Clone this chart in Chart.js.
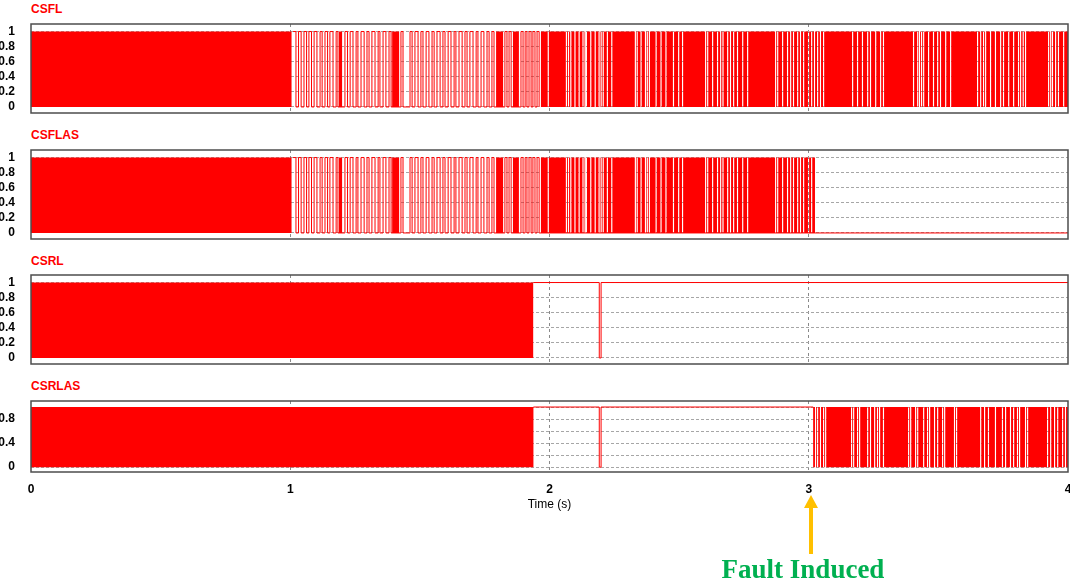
<!DOCTYPE html>
<html>
<head>
<meta charset="utf-8">
<script src="https://cdn.jsdelivr.net/npm/chart.js@4"></script>
<style>
    body { margin: 0; width: 1070px; height: 584px; overflow: hidden; background: #fff; position: relative; }
    .panel { position: absolute; left: 0; }
    .ttl { position: absolute; left: 31px; font: bold 12px/12px "Liberation Sans", Arial, sans-serif; color: #ff0000; }
    #fault { position: absolute; left: 703px; top: 556px; width: 200px; text-align: center; white-space: nowrap;
             font: bold 27px/27px "Liberation Serif", "Times New Roman", serif; color: #00b050; }
    #arrow { position: absolute; left: 800px; top: 492px; }
</style>
</head>
<body>
<div class="ttl" style="top:3px">CSFL</div>
<div class="ttl" style="top:129px">CSFLAS</div>
<div class="ttl" style="top:255px">CSRL</div>
<div class="ttl" style="top:380px">CSRLAS</div>

<div class="panel" style="top:22px"><canvas id="csflChart" width="1072" height="93"></canvas></div>
<div class="panel" style="top:148px"><canvas id="csflasChart" width="1072" height="93"></canvas></div>
<div class="panel" style="top:273px"><canvas id="csrlChart" width="1072" height="93"></canvas></div>
<div class="panel" style="top:399px"><canvas id="csrlasChart" width="1072" height="121"></canvas></div>

<svg id="arrow" width="22" height="64">
    <polygon points="4,16 18,16 11,3" fill="#ffc000"/>
    <rect x="9" y="15" width="4" height="47" fill="#ffc000"/>
</svg>
<div id="fault">Fault Induced</div>

<script>
// 축 눈금
var timeTicks = [0, 1, 2, 3, 4];
var levelTicks = [0, 0.2, 0.4, 0.6, 0.8, 1];
var levelLabels = [0, 0.2, 0.4, 0.6, 0.8, 1];
var csrlasLabels = [0, 0.4, 0.8];

// CSFL: 빽빽한 스위칭 구간 (채워진 블록), 블록 안의 짧은 off 구간, 드문 펄스 [on, off]
var csflBlocks = [[0, 1.005], [1.188, 1.200], [1.393, 1.420], [1.794, 1.821], [1.859, 1.882], [1.967, 4]];
var csflGaps = [
    1.993, 2.063, 2.071, 2.080, 2.096, 2.112, 2.127, 2.135, 2.140, 2.157, 2.174, 2.189, 2.197, 2.205,
    2.221, 2.238, 2.329, 2.336, 2.351, 2.368, 2.375, 2.383, 2.409, 2.428, 2.447, 2.476, 2.496, 2.511,
    2.600, 2.608, 2.627, 2.646, 2.658, 2.667, 2.685, 2.696, 2.708, 2.723, 2.743, 2.762, 2.870, 2.878,
    2.897, 2.916, 2.928, 2.939, 2.955, 2.966, 2.978, 2.997, 3.009, 3.020, 3.032, 3.043, 3.055,
    3.167, 3.186, 3.205, 3.225, 3.236, 3.256, 3.275, 3.286, 3.402, 3.418, 3.425, 3.433, 3.441, 3.460,
    3.479, 3.495, 3.506, 3.526, 3.545, 3.649, 3.661, 3.672, 3.680, 3.699, 3.718, 3.738, 3.749, 3.769,
    3.788, 3.807, 3.815, 3.825, 3.834, 3.923, 3.931, 3.938, 3.950, 3.961, 3.981
];
var csflPulses = [
    [1.011, 1.022], [1.032, 1.042], [1.053, 1.063], [1.072, 1.082], [1.092, 1.103], [1.115, 1.123],
    [1.134, 1.144], [1.153, 1.165], [1.177, 1.184], [1.211, 1.221], [1.231, 1.242], [1.254, 1.261],
    [1.273, 1.285], [1.296, 1.304], [1.315, 1.327], [1.339, 1.346], [1.358, 1.369], [1.381, 1.389],
    [1.427, 1.435], [1.462, 1.470], [1.481, 1.493], [1.504, 1.512], [1.524, 1.535], [1.547, 1.555],
    [1.566, 1.578], [1.589, 1.597], [1.609, 1.620], [1.632, 1.639], [1.651, 1.663], [1.674, 1.682],
    [1.693, 1.705], [1.717, 1.724], [1.736, 1.747], [1.759, 1.767], [1.778, 1.786], [1.828, 1.836],
    [1.844, 1.852], [1.890, 1.898], [1.906, 1.913], [1.921, 1.929], [1.936, 1.944], [1.952, 1.960]
];
// CSFLAS는 CSFL과 같다가 3.024 s에서 스위칭이 멈춤 (0 유지)
var csflasStop = 3.024;

// CSRL: 1.938 s까지 스위칭, 이후 1 유지 (2.19 s에 짧게 0)
var csrlBlocks = [[0, 1.938]];
var csrlHold = [[1.938, 1], [2.192, 0], [2.199, 1], [4, 1]];

// CSRLAS: CSRL과 같다가 3.017 s부터 다시 스위칭
var csrlasBlocks = [[0, 1.938], [3.017, 4]];
var csrlasGaps = [
    3.024, 3.032, 3.043, 3.055, 3.063, 3.163, 3.171, 3.186, 3.194, 3.225, 3.236, 3.252, 3.263, 3.271,
    3.286, 3.383, 3.391, 3.410, 3.418, 3.441, 3.456, 3.464, 3.483, 3.495, 3.514, 3.522, 3.560, 3.568,
    3.661, 3.676, 3.691, 3.718, 3.745, 3.757, 3.776, 3.788, 3.803, 3.811, 3.834, 3.842, 3.919, 3.931,
    3.946, 3.958, 3.977, 3.988
];
var csrlasHold = [[1.938, 1], [2.192, 0], [2.199, 1], [3.017, 1]];

var GAP_W = 0.0045; // off 구간 폭 (s)
var RED = '#ff0000';
var FONT = '"Liberation Sans", Arial, sans-serif';

// 채워진 블록 -> stepped 포인트
function blockPoints(blocks, gaps) {
    var pts = [];
    blocks.forEach(function (b) {
        pts.push({ x: b[0], y: 1 });
        gaps.filter(function (g) { return g > b[0] && g + GAP_W < b[1]; }).forEach(function (g) {
            pts.push({ x: g, y: 0 });
            pts.push({ x: g + GAP_W, y: 1 });
        });
        pts.push({ x: b[1], y: 0 });
    });
    return pts;
}

function pulsePoints(pulses) {
    var pts = [];
    pulses.forEach(function (p) {
        pts.push({ x: p[0], y: 1 });
        pts.push({ x: p[1], y: 0 });
    });
    return pts;
}

function holdPoints(hold) {
    return hold.map(function (h) { return { x: h[0], y: h[1] }; });
}

function makeDatasets(fillPts, linePts) {
    return [
        {
            data: linePts, stepped: true, fill: false, borderColor: RED, borderWidth: 1,
            pointRadius: 0,
        },
        {
            data: fillPts, stepped: true, fill: 'origin', backgroundColor: RED,
            borderColor: 'rgba(0,0,0,0)', borderWidth: 0, pointRadius: 0,
        },
    ];
}

// 패널 테두리
var framePlugin = {
    id: 'frame',
    afterDatasetsDraw: function (chart) {
        var a = chart.chartArea;
        var ctx = chart.ctx;
        ctx.save();
        ctx.strokeStyle = '#4d4d4d';
        ctx.lineWidth = 1.5;
        ctx.strokeRect(a.left, a.top, a.right - a.left, a.bottom - a.top);
        ctx.restore();
    },
};

function createChart(id, datasets, labels, isBottom) {
    return new Chart(document.getElementById(id).getContext('2d'), {
        type: 'line',
        data: { datasets: datasets },
        options: {
            responsive: false,
            animation: false,
            devicePixelRatio: 1,
            layout: { padding: { left: 0, right: 4, top: 2, bottom: isBottom ? 0 : 2 } },
            plugins: { legend: { display: false }, tooltip: { enabled: false } },
            scales: {
                x: {
                    type: 'linear',
                    min: 0,
                    max: 4,
                    afterBuildTicks: function (axis) {
                        axis.ticks = timeTicks.map(function (v) { return { value: v }; });
                    },
                    afterFit: function (axis) {
                        axis.height = isBottom ? 48 : 0;
                        axis.paddingLeft = 0;
                        axis.paddingRight = 0;
                    },
                    grid: {
                        drawTicks: false,
                        color: function (c) {
                            return c.tick && c.tick.value > 0 && c.tick.value < 4 ? '#8a8a8a' : 'rgba(0,0,0,0)';
                        },
                    },
                    border: { display: false, dash: [3, 3] },
                    ticks: {
                        display: isBottom,
                        autoSkip: false,
                        maxRotation: 0,
                        padding: 10,
                        color: '#000',
                        font: { family: FONT, size: 12, weight: 'bold' },
                    },
                    title: {
                        display: isBottom,
                        text: 'Time (s)',
                        color: '#000',
                        font: { family: FONT, size: 12 },
                        padding: { top: 0, bottom: 8 },
                    },
                },
                y: {
                    min: -0.08,
                    max: 1.1,
                    afterBuildTicks: function (axis) {
                        axis.ticks = levelTicks.map(function (v) { return { value: v }; });
                    },
                    afterFit: function (axis) {
                        axis.width = 31;
                        axis.paddingTop = 0;
                        axis.paddingBottom = 0;
                    },
                    grid: { drawTicks: false, color: '#a6a6a6' },
                    border: { display: false, dash: [3, 2] },
                    ticks: {
                        autoSkip: false,
                        padding: 16,
                        color: '#000',
                        font: { family: FONT, size: 12, weight: 'bold' },
                        callback: function (v) { return labels.indexOf(v) >= 0 ? String(v) : ''; },
                    },
                },
            },
        },
        plugins: [framePlugin],
    });
}

// CSFL
createChart('csflChart',
    makeDatasets(blockPoints(csflBlocks, csflGaps), pulsePoints(csflPulses)),
    levelLabels, false);

// CSFLAS
var csflasBlocks = csflBlocks
    .filter(function (b) { return b[0] < csflasStop; })
    .map(function (b) { return [b[0], Math.min(b[1], csflasStop)]; });
var csflasLine = pulsePoints(csflPulses).concat(holdPoints([[csflasStop, 0], [4, 0]]));
createChart('csflasChart',
    makeDatasets(blockPoints(csflasBlocks, csflGaps), csflasLine),
    levelLabels, false);

// CSRL
createChart('csrlChart',
    makeDatasets(blockPoints(csrlBlocks, []), holdPoints(csrlHold)),
    levelLabels, false);

// CSRLAS
createChart('csrlasChart',
    makeDatasets(blockPoints(csrlasBlocks, csrlasGaps), holdPoints(csrlasHold)),
    csrlasLabels, true);
</script>
</body>
</html>
